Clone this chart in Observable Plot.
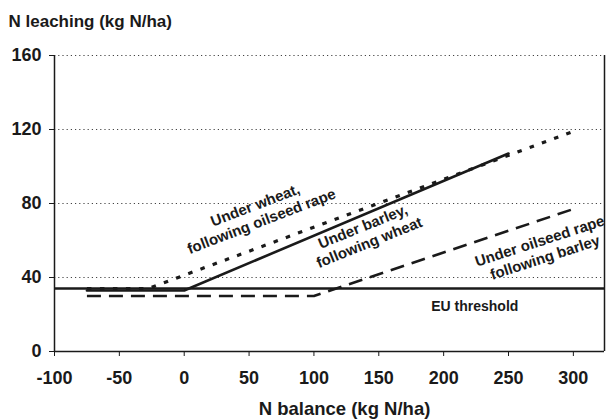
<!DOCTYPE html>
<html>
<head>
<meta charset="utf-8">
<script src="https://cdn.jsdelivr.net/npm/d3@7"></script>
<script src="https://cdn.jsdelivr.net/npm/@observablehq/plot@0.6"></script>
<style>
  html, body { margin: 0; padding: 0; background: #fff; }
</style>
</head>
<body>
<div id="chart"></div>
<script>
// ---- data ----
const xTicks = [-100, -50, 0, 50, 100, 150, 200, 250, 300];
const yTicks = [0, 40, 80, 120, 160];
const gridValues = [40, 80, 120, 160];
const euThreshold = 34;

const barleyBalance = [-75, 0, 250];
const barleyLeaching = [33, 33, 107];

const wheatBalance = [-75, -28, 300];
const wheatLeaching = [34, 34, 119];

const rapeBalance = [-75, 100, 300];
const rapeLeaching = [30, 30, 77];

const toRows = (xs, ys) => xs.map((x, i) => ({x, y: ys[i]}));
const barley = toRows(barleyBalance, barleyLeaching);
const wheat = toRows(wheatBalance, wheatLeaching);
const rape = toRows(rapeBalance, rapeLeaching);

const font = "Liberation Sans, Arial, Helvetica, sans-serif";
const ink = "#1a1a1a";

const chart = Plot.plot({
  width: 606,
  height: 420,
  marginTop: 55,
  marginBottom: 69,
  marginLeft: 54,
  marginRight: 2,
  style: {fontFamily: font, fontWeight: "bold", fontSize: "17px", color: ink, background: "#fff"},
  x: {domain: [-100, 324], label: null},
  y: {domain: [0, 160], label: null},
  marks: [
    Plot.ruleY(gridValues, {stroke: "#444", strokeWidth: 1, strokeDasharray: "1.2,3"}),
    Plot.axisX({ticks: xTicks, tickSize: 5, tickPadding: 15, tickFormat: d => String(d), fontSize: 18, fontWeight: "bold", stroke: ink}),
    Plot.axisY({ticks: yTicks, tickSize: 5, tickPadding: 8, tickFormat: d => String(d), fontSize: 18, fontWeight: "bold", stroke: ink}),
    Plot.ruleX([-100], {stroke: ink, strokeWidth: 1.5}),
    Plot.ruleX([324], {stroke: ink, strokeWidth: 1.5}),
    Plot.ruleY([0], {stroke: ink, strokeWidth: 1.5}),
    Plot.ruleY([euThreshold], {stroke: ink, strokeWidth: 2.5}),
    Plot.line(rape, {x: "x", y: "y", stroke: ink, strokeWidth: 2.6, strokeDasharray: "14,8", strokeLinecap: "butt"}),
    Plot.line(wheat, {x: "x", y: "y", stroke: ink, strokeWidth: 3.2, strokeDasharray: "4.5,8.5", strokeLinecap: "butt"}),
    Plot.line(barley, {x: "x", y: "y", stroke: ink, strokeWidth: 2.6}),
    // annotations
    Plot.text(["Under wheat,\nfollowing oilseed rape"], {x: 57, y: 75, rotate: -21, fontSize: 15, fontWeight: "bold", fill: ink, lineHeight: 1.15}),
    Plot.text(["Under barley,\nfollowing wheat"], {x: 140, y: 63.5, rotate: -22, fontSize: 15, fontWeight: "bold", fill: ink, lineHeight: 1.15}),
    Plot.text(["Under oilseed rape\nfollowing barley"], {x: 276, y: 55.5, rotate: -18, fontSize: 15, fontWeight: "bold", fill: ink, lineHeight: 1.15}),
    Plot.text(["EU threshold"], {x: 224, y: 24.5, fontSize: 14, fontWeight: "bold", fill: ink}),
    // axis titles
    Plot.text(["N leaching (kg N/ha)"], {frameAnchor: "top-left", dx: -46, dy: -34, textAnchor: "start", lineAnchor: "middle", fontSize: 17, fontWeight: "bold", fill: ink}),
    Plot.text(["N balance (kg N/ha)"], {frameAnchor: "bottom", dx: 15, dy: 58, lineAnchor: "middle", fontSize: 18.5, fontWeight: "bold", fill: ink})
  ]
});
document.getElementById("chart").append(chart);
</script>
</body>
</html>
